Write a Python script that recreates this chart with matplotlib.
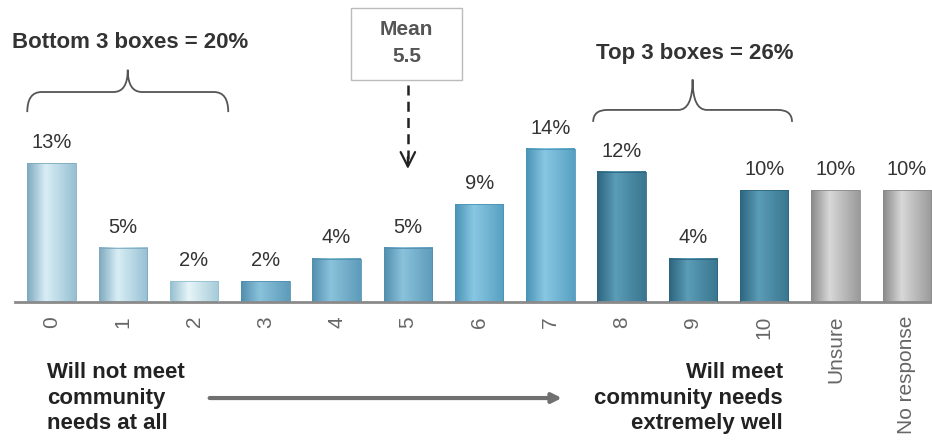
import matplotlib
matplotlib.use('Agg')
import matplotlib.pyplot as plt
from matplotlib.path import Path
from matplotlib.patches import PathPatch, Rectangle
from matplotlib.colors import LinearSegmentedColormap
import numpy as np

plt.rcParams['font.family'] = ['Liberation Sans', 'DejaVu Sans']

# data
categories = ['0', '1', '2', '3', '4', '5', '6', '7', '8', '9', '10', 'Unsure', 'No response']
pct = [12.8, 5.0, 1.9, 1.9, 4.0, 5.0, 9.0, 14.1, 12.0, 4.0, 10.3, 10.3, 10.3]
pct_labels = ['13%', '5%', '2%', '2%', '4%', '5%', '9%', '14%', '12%', '4%', '10%', '10%', '10%']
mean_score = 5.5
bottom3 = 20
top3 = 26

# cylinder shading per bar (left edge, highlight, right edge)
light = ('#7fa9bf', '#d8eef6', '#97c0d3')
lighter = ('#95bfcf', '#e6f5f8', '#a6cbd8')
mid = ('#528fae', '#8ac2db', '#5d9cba')
bright = ('#4b93b6', '#88c7e2', '#58a0c2')
dark = ('#2d6580', '#5b9cb6', '#3a7690')
grey = ('#8a8a8a', '#d8d8d8', '#9a9a9a')
tones = [light, light, lighter, mid, mid, mid, bright, bright, dark, dark, dark, grey, grey]

W = 0.68
fig = plt.figure(figsize=(9.32, 4.44), dpi=100)
ax = fig.add_axes([15/932, 142/444, 917/932, 302/444])
x = np.arange(len(categories))

grad = np.linspace(0, 1, 64).reshape(1, -1)
for xi, h, tone in zip(x, pct, tones):
    cmap = LinearSegmentedColormap.from_list('cyl', [(0, tone[0]), (0.38, tone[1]), (1, tone[2])])
    ax.imshow(grad, cmap=cmap, extent=[xi - W/2, xi + W/2, 0, h], aspect='auto', zorder=2)
    ax.add_patch(Rectangle((xi - W/2, 0), W, h, fill=False, ec=tone[0], lw=0.6, zorder=3))
    ax.annotate(pct_labels[xi], (xi, h), xytext=(0, 8), textcoords='offset points',
                ha='center', va='bottom', fontsize=14.5, color='#333333')

ax.set_xlim(-0.512, 12.354)
ax.set_ylim(0, 27.83)
for s in ['top', 'right', 'left']:
    ax.spines[s].set_visible(False)
ax.spines['bottom'].set_color('#8a8a8a')
ax.spines['bottom'].set_linewidth(2)
ax.set_yticks([])
ax.set_xticks(x)
ax.set_xticklabels(categories, rotation=90, fontsize=15, color='#666666', va='top')
ax.tick_params(axis='x', length=0, pad=10)


def brace(x0, x1, y_end, y_mid, y_tip, r=0.2):
    xc = (x0 + x1) / 2
    verts = [(x0, y_end), (x0, y_mid), (x0 + r, y_mid), (xc - r, y_mid),
             (xc, y_mid), (xc, y_tip), (xc, y_mid), (xc + r, y_mid),
             (x1 - r, y_mid), (x1, y_mid), (x1, y_end)]
    codes = [Path.MOVETO, Path.CURVE3, Path.CURVE3, Path.LINETO,
             Path.CURVE3, Path.CURVE3, Path.CURVE3, Path.CURVE3,
             Path.LINETO, Path.CURVE3, Path.CURVE3]
    ax.add_patch(PathPatch(Path(verts, codes), fill=False, ec='#555555', lw=1.3, clip_on=False))


# bottom / top 3 boxes
brace(0 - 0.34, 2 + 0.48, 17.5, 19.35, 21.4)
ax.text(1.1, 23.9, 'Bottom 3 boxes = {0}%'.format(bottom3), ha='center', va='center',
        fontsize=16, fontweight='bold', color='#333333')
brace(8 - 0.40, 10 + 0.39, 16.6, 17.7, 20.5)
ax.text(9.03, 22.9, 'Top 3 boxes = {0}%'.format(top3), ha='center', va='center',
        fontsize=16, fontweight='bold', color='#333333')

# mean box and dashed arrow
ax.add_patch(Rectangle((5 - 0.8, 20.46), 1.56, 6.64, fill=False, ec='#bbbbbb', lw=1, clip_on=False))
ax.text(4.98, 23.9, 'Mean\n{0}'.format(mean_score), ha='center', va='center', fontsize=15,
        fontweight='bold', color='#555555', linespacing=1.55)
ax.plot([5, 5], [20.0, 13.2], ls=(0, (4, 2.5)), lw=1.8, color='#222222', clip_on=False)
ax.annotate('', xy=(5, 12.0), xytext=(5, 13.6),
            arrowprops=dict(arrowstyle='->', lw=1.6, color='#222222', mutation_scale=26))

# scale direction
ax.annotate('', xy=(7.2, -8.85), xytext=(2.18, -8.85), annotation_clip=False,
            arrowprops=dict(arrowstyle='-|>', lw=3, color='#707070', mutation_scale=14))
ax.text(-0.063, -8.85, 'Will not meet\ncommunity\nneeds at all', ha='left', va='center',
        fontsize=16, fontweight='bold', color='#222222', linespacing=1.3)
ax.text(10.26, -8.85, 'Will meet\ncommunity needs\nextremely well', ha='right', va='center',
        fontsize=16, fontweight='bold', color='#222222', linespacing=1.3)

fig.savefig('out.png', dpi=100)
